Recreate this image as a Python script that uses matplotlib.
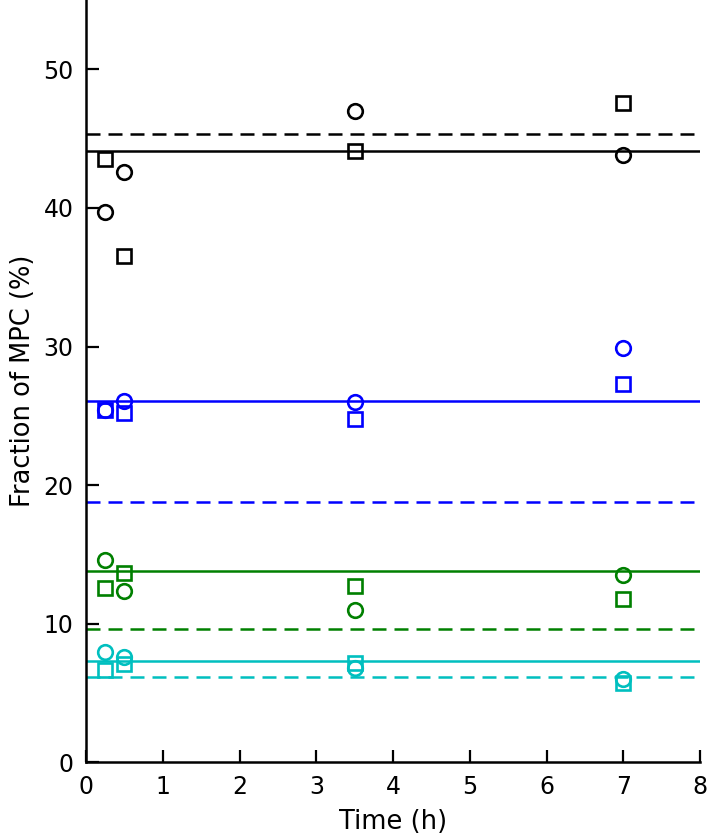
import matplotlib
matplotlib.use("Agg")
import matplotlib.pyplot as plt

# sampling times (h)
times = [0.25, 0.5, 3.5, 7.0]

# measured fractions (%) per group: circles and squares
black_circles = [39.7, 42.6, 47.0, 43.8]
black_squares = [43.5, 36.5, 44.1, 47.6]
blue_circles = [25.4, 26.1, 26.0, 29.9]
blue_squares = [25.4, 25.2, 24.8, 27.3]
green_circles = [14.6, 12.4, 11.0, 13.5]
green_squares = [12.6, 13.7, 12.7, 11.8]
cyan_circles = [8.0, 7.6, 6.8, 6.0]
cyan_squares = [6.7, 7.1, 7.2, 5.7]

# horizontal reference levels (%)
solid_levels = [44.1, 26.1, 13.8, 7.35]
dashed_levels = [45.35, 18.8, 9.6, 6.2]

group_colors = ["k", "#0000ff", "#008000", "#00bfbf"]
circles = [black_circles, blue_circles, green_circles, cyan_circles]
squares = [black_squares, blue_squares, green_squares, cyan_squares]

fig = plt.figure(figsize=(7.08, 8.38), dpi=100)
ax = fig.add_axes([0.1215, 0.0901, 0.8672, 0.9099])

for color, solid, dashed, circ, sq in zip(group_colors, solid_levels, dashed_levels, circles, squares):
    ax.axhline(solid, color=color, lw=1.8, zorder=1)
    ax.axhline(dashed, color=color, lw=1.8, ls=(0, (5.6, 3.2)), zorder=1)
    ax.plot(times, circ, "o", ms=10.5, mfc="none", mec=color, mew=1.9, ls="none", zorder=2)
    ax.plot(times, sq, "s", ms=10, mfc="none", mec=color, mew=1.9, ls="none", zorder=2)

ax.set_xlim(0, 8)
ax.set_ylim(0, 55)
ax.set_xticks(range(0, 9))
ax.set_yticks(range(0, 51, 10))

for side in ["top", "right"]:
    ax.spines[side].set_visible(False)
for side in ["left", "bottom"]:
    ax.spines[side].set_linewidth(1.8)

ax.tick_params(direction="in", length=9, width=1.6, labelsize=17, pad=9)

ax.set_xlabel("Time (h)", fontsize=18.5, labelpad=7)
ax.set_ylabel("Fraction of MPC (%)", fontsize=18.5, labelpad=5)

fig.savefig("out.png", dpi=100)
